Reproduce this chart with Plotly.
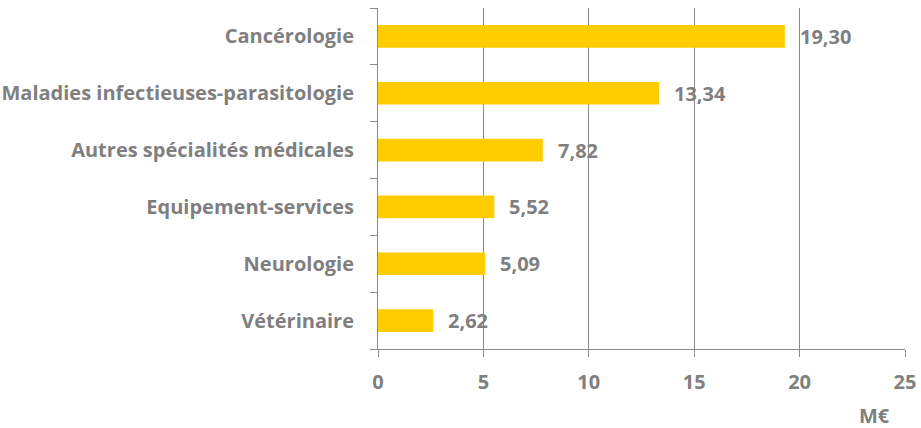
import plotly.graph_objects as go

categories = ["Cancérologie", "Maladies infectieuses-parasitologie", "Autres spécialités médicales",
              "Equipement-services", "Neurologie", "Vétérinaire"]
values = [19.30, 13.34, 7.82, 5.52, 5.09, 2.62]
labels = ["19,30", "13,34", "7,82", "5,52", "5,09", "2,62"]
x_ticks = [0, 5, 10, 15, 20, 25]
unit = "M€"

GRAY = "#7f7f7f"
LINE = "#8a8a8a"
FONT = "Open Sans, sans-serif"
FS = 20

fig = go.Figure(go.Bar(
    x=values, y=categories, orientation="h",
    marker=dict(color="#FFCC00", line=dict(width=0)),
    width=0.4, hoverinfo="skip",
))

for v, c, t in zip(values, categories, labels):
    fig.add_annotation(x=v, y=c, text=t, xanchor="left", yanchor="middle",
                       xshift=13, showarrow=False,
                       font=dict(family=FONT, size=FS, color=GRAY, weight="bold"))

fig.add_annotation(x=1, y=0, xref="paper", yref="paper", text=unit,
                   xanchor="right", yanchor="middle", yshift=-66, xshift=-13, showarrow=False,
                   font=dict(family=FONT, size=FS, color=GRAY, weight="bold"))

fig.update_layout(
    width=921, height=428,
    margin=dict(l=378, r=16, t=8, b=79, autoexpand=False),
    plot_bgcolor="white", paper_bgcolor="white",
    showlegend=False,
    font=dict(family=FONT, size=FS, color=GRAY),
    xaxis=dict(range=[0, 25], tickvals=x_ticks, showgrid=True, gridcolor=LINE, gridwidth=1,
               showline=True, linecolor=LINE, linewidth=1,
               ticks="outside", ticklen=7, tickcolor=LINE,
               tickfont=dict(family=FONT, size=FS, color=GRAY, weight="bold"),
               ticklabelstandoff=8, zeroline=False, fixedrange=True, automargin=False),
    yaxis=dict(categoryorder="array", categoryarray=categories[::-1],
               showline=True, linecolor=LINE, linewidth=1,
               ticks="outside", ticklen=7, tickcolor=LINE, tickson="boundaries",
               tickfont=dict(family=FONT, size=FS, color=GRAY, weight="bold"),
               ticklabelstandoff=19, showgrid=False, fixedrange=True, automargin=False),
    bargap=0.6,
)

fig.write_html("out.html", config={"displayModeBar": False},
               post_script="document.body.style.margin='0';")
